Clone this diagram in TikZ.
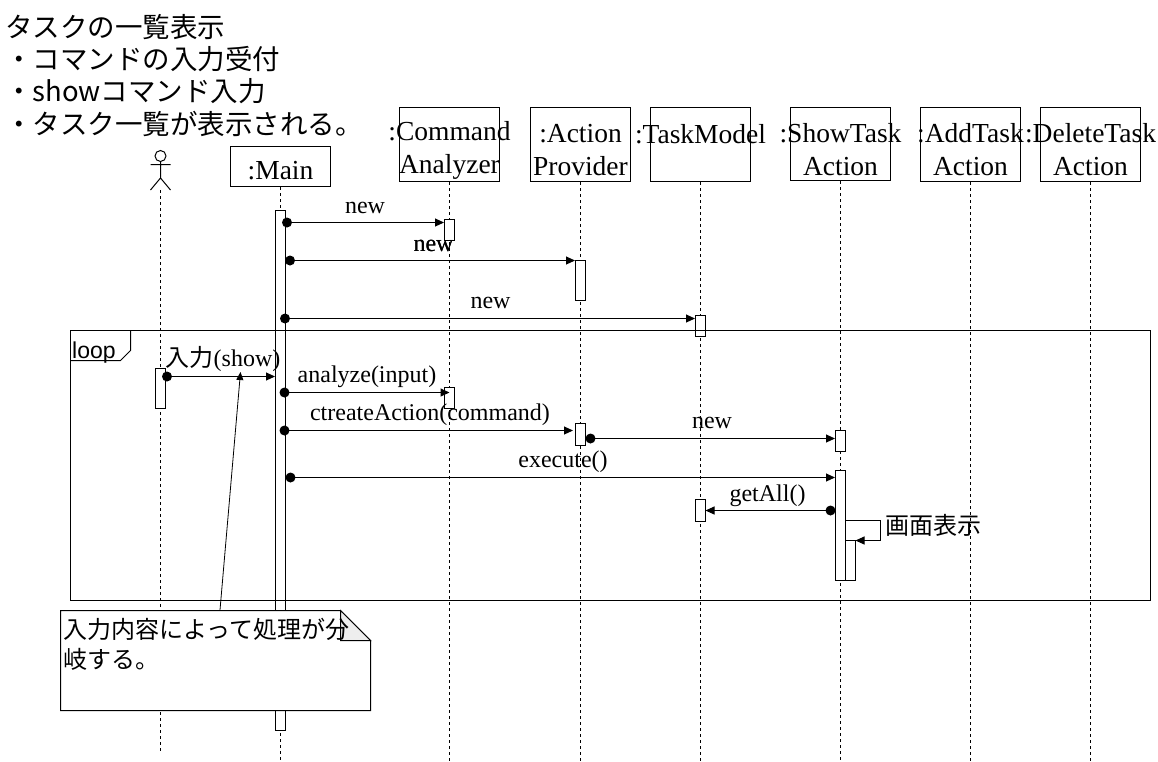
\documentclass[tikz,border=0pt]{standalone}
\usepackage{fontspec}
\usepackage{xcolor}
\usetikzlibrary{arrows.meta}
\setmainfont{Liberation Serif}
\newfontfamily\jpfont{Noto Sans CJK JP}
\newfontfamily\loopfont{Liberation Sans}
\definecolor{foldgray}{HTML}{EEEEEE}
\definecolor{lineblack}{HTML}{000000}
\tikzset{
  objbox/.style={draw=lineblack,line width=1pt,minimum width=100pt,inner sep=0pt},
  objtxt/.style={inner sep=0pt,align=center,font=\fontsize{27.5}{33}\selectfont},
  actbar/.style={draw=lineblack,fill=white,line width=1pt,minimum width=10pt,inner sep=0pt,anchor=north},
  lifeln/.style={line width=1pt,dash pattern=on 3pt off 3pt},
  msgdot/.style={circle,fill=lineblack,minimum size=10pt,inner sep=0pt},
  msgln/.style={line width=1pt,-{Triangle[length=9pt,width=8pt]}},
  msgtxt/.style={inner sep=0pt,anchor=base,font=\fontsize{24}{28}\selectfont},
  jptxt/.style={inner sep=0pt,anchor=west,font=\fontsize{27.5}{32.5}\selectfont\jpfont}
}
\newcommand{\objbx}[6]{\node[objbox,minimum height=#4pt] (#1) at (#2,#3) {}; \node[objtxt] (#1txt) at (#2,#6) {#5}; \coordinate (#1end) at (#2,761); \draw[lifeln] (#1.south)--(#1end);}
\newcommand{\actb}[4]{\node[actbar,minimum height={#4-#3}] (#1) at (#2,#3) {};}
\newcommand{\msg}[7]{\node[msgdot] (#1a) at (#2,#4) {}; \coordinate (#1b) at (#3,#4); \draw[msgln] (#1a.center)--(#1b); \node[msgtxt] (#1l) at (#6,#7) {#5};}
\begin{document}
\begin{tikzpicture}[x=1pt,y=-1pt]
\useasboundingbox (0,0) rectangle (1158,761);
% heading
\node[jptxt] (h1) at (5,27) {タスクの一覧表示};
\node[jptxt] (h2) at (5,59) {・コマンドの入力受付};
\node[jptxt] (h3) at (5,91) {・showコマンド入力};
\node[jptxt] (h4) at (5,124) {・タスク一覧が表示される。};
% objects
\objbx{main}{280.5}{166.5}{40}{:Main}{170.5}
\objbx{cmd}{449.5}{144.5}{74}{:Command\\Analyzer}{150}
\objbx{prov}{580.5}{144.5}{74}{:Action\\Provider}{150}
\objbx{model}{700.5}{144.5}{74}{:TaskModel\\\phantom{A}}{150}
\objbx{show}{840.5}{144}{73}{:ShowTask\\Action}{150}
\objbx{add}{970.5}{144.5}{74}{:AddTask\\Action}{150}
\objbx{del}{1090.5}{144.5}{74}{:DeleteTask\\Action}{150}
% actor
\node[circle,draw=lineblack,line width=1pt,minimum size=11pt,inner sep=0pt] (head) at (160.5,156) {};
\coordinate (arml) at (150.5,164.5); \coordinate (armr) at (170.5,164.5); \coordinate (hip) at (160.5,178);
\coordinate (legl) at (150.5,190); \coordinate (legr) at (170.5,190); \coordinate (foot) at (160.5,190); \coordinate (footend) at (160.5,751);
\draw[line width=1pt] (head.south)--(hip) (arml)--(armr) (legl)--(hip)--(legr);
\draw[lifeln] (foot)--(footend);
% activations
\actb{mainbar}{280.5}{210}{730}
\actb{cmdbar}{449.5}{219}{240}
\actb{provbar}{580.5}{260}{300}
\actb{modelbar}{700.5}{315}{336}
\actb{userbar}{160.5}{368}{408}
\actb{cmdbarb}{449.5}{387}{408}
\actb{provbarb}{580.5}{423}{445}
\actb{showbar}{840.5}{430}{451}
\actb{showbarb}{840.5}{470}{580}
\actb{modelbarb}{700.5}{499}{521}
\actb{selfbar}{850.5}{540}{580}
% loop frame
\coordinate (lpa) at (70.5,330.5); \coordinate (lpb) at (1150.5,330.5); \coordinate (lpc) at (1150.5,600.5); \coordinate (lpd) at (70.5,600.5);
\draw[line width=1pt] (lpa)--(lpb)--(lpc)--(lpd)--cycle;
\draw[line width=1pt] (130.5,330.5)--(130.5,350.5)--(120.5,360.5)--(70.5,360.5);
\node[inner sep=0pt,anchor=base west,font=\fontsize{23}{26}\selectfont\loopfont] (looptxt) at (72,358.5) {loop};
% messages
\msg{ma}{287}{444}{222.5}{new}{365}{213}
\msg{mb}{290}{575}{260.5}{new}{433.5}{251}
\node[msgtxt] (mbl2) at (433.5,251) {new};
\msg{mc}{285}{695}{318.5}{new}{490.5}{308.5}
\msg{md}{167}{275}{376.5}{{\jpfont 入力}(show)}{223}{366}
\msg{me}{284.5}{449.5}{392.5}{analyze(input)}{367}{382.5}
\msg{mf}{284.5}{573}{430.5}{ctreateAction(command)}{430}{420.5}
\msg{mg}{590.5}{835}{438.5}{new}{712}{428}
\msg{mh}{290.5}{835}{477.5}{execute()}{563}{467.5}
\msg{mi}{830.5}{705.5}{510.5}{getAll()}{767.5}{501.5}
% self call
\coordinate (sa) at (845.5,520.5); \coordinate (sb) at (880.5,520.5); \coordinate (sc) at (880.5,540.5); \coordinate (sd) at (855.5,540.5);
\draw[msgln] (sa)--(sb)--(sc)--(sd);
\node[inner sep=0pt,anchor=west,font=\fontsize{24}{28}\selectfont\jpfont] (selftxt) at (885,525) {画面表示};
% note
\coordinate (nb) at (220,610); \coordinate (nt) at (240.5,372);
\draw[line width=0.8pt,-{Triangle[length=8pt,width=7pt]}] (nb)--(nt);
\draw[line width=1pt,fill=white] (60.5,610.5)--(340.5,610.5)--(370.5,640.5)--(370.5,710.5)--(60.5,710.5)--cycle;
\draw[line width=1pt,fill=foldgray] (340.5,610.5)--(340.5,640.5)--(370.5,640.5)--cycle;
\node[inner sep=0pt,anchor=north west,align=left,font=\fontsize{24}{29.5}\selectfont\jpfont] (notetxt) at (63,618) {入力内容によって処理が分\\岐する。};
\end{tikzpicture}
\end{document}
